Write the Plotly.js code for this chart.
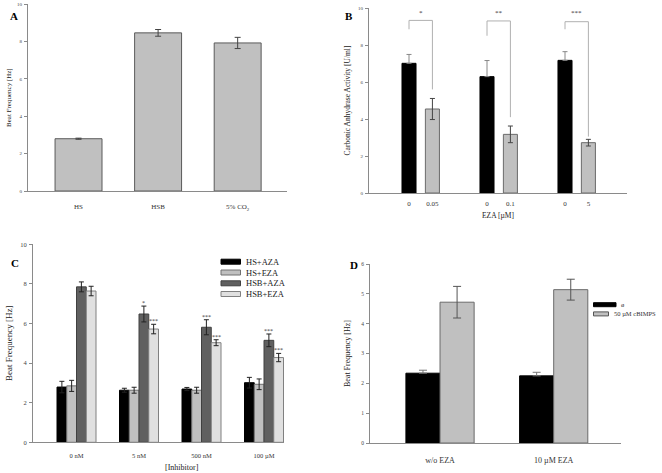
<!DOCTYPE html>
<html><head><meta charset="utf-8">
<script src="https://cdn.plot.ly/plotly-3.0.1.min.js"></script>
<style>html,body{margin:0;padding:0;background:#fff}#chart{width:662px;height:473px}</style>
</head><body><div id="chart"></div>
<script>
// ---- Panel A ----
const catsA = ["HS", "HSB", "5% CO<sub>2</sub>"];
const valsA = [2.8, 8.47, 7.93];
const errA = [0.03, 0.18, 0.3];

// ---- Panel B ----
const dosesB = ["0.05", "0.1", "5"];
const controlB = [7.01, 6.29, 7.17];
const controlErrB = [0.48, 0.87, 0.47];
const ezaB = [4.54, 3.17, 2.72];
const ezaErrB = [0.57, 0.45, 0.18];
const sigB = ["*", "**", "***"];

// ---- Panel C ----
const catsC = ["0 nM", "5 nM", "500 nM", "100 µM"];
const seriesC = ["HS+AZA", "HS+EZA", "HSB+AZA", "HSB+EZA"];
const hsAzaC = [2.79, 2.63, 2.69, 3.01];
const hsAzaErrC = [0.29, 0.10, 0.08, 0.27];
const hsEzaC = [2.85, 2.63, 2.63, 2.93];
const hsEzaErrC = [0.28, 0.15, 0.15, 0.27];
const hsbAzaC = [7.85, 6.48, 5.81, 5.15];
const hsbAzaErrC = [0.25, 0.40, 0.38, 0.32];
const hsbEzaC = [7.64, 5.72, 5.03, 4.28];
const hsbEzaErrC = [0.24, 0.24, 0.15, 0.21];
const sigHsbAzaC = ["", "*", "***", "***"];
const sigHsbEzaC = ["", "***", "***", "***"];

// ---- Panel D ----
const catsD = ["w/o EZA", "10 µM EZA"];
const seriesD = ["ø", "50 µM cBIMPS"];
const ctrlD = [2.34, 2.25];
const ctrlErrD = [0.10, 0.12];
const cbD = [4.72, 5.14];
const cbErrD = [0.53, 0.35];

// ---- helpers ----
const W = 662, H = 473;
const px = x => x / W;
const py = y => 1 - y / H;
const FONT = "Liberation Serif, Times New Roman, serif";
const AX = "#8a8a8a";
const idx = arr => arr.map((_, i) => i);
function offs(n, slot, w) { // offsets for n side-by-side bars
  const out = [];
  for (let i = 0; i < n; i++) out.push(-n * slot / 2 + i * slot + (slot - w) / 2);
  return out;
}
function bar(xa, ya, x, y, err, color, lineColor, offset, width, errColor, capW, oneSided) {
  const e = {type: "data", array: err, color: errColor, thickness: 1, width: capW, visible: true};
  if (oneSided) { e.symmetric = false; e.arrayminus = err.map(() => 0); }
  return {type: "bar", xaxis: xa, yaxis: ya, x: x, y: y, offset: offset, width: width,
    marker: {color: color, line: {color: lineColor, width: 1}}, error_y: e, showlegend: false,
    hoverinfo: "y"};
}

const traces = [];
// A
traces.push(bar("x", "y", idx(catsA), valsA, errA, "#c0c0c0", "#5a5a5a", -0.295, 0.59, "#444", 3));
// B
const oB = offs(2, 0.3, 0.18);
traces.push(bar("x2", "y2", idx(dosesB), controlB, controlErrB, "#000", "#000", oB[0], 0.18, "#888", 2.5, true));
traces.push(bar("x2", "y2", idx(dosesB), ezaB, ezaErrB, "#c0c0c0", "#6a6a6a", oB[1], 0.18, "#444", 2.5));
// C
const oC = offs(4, 0.156, 0.156);
const cData = [[hsAzaC, hsAzaErrC, "#000000", "#000"], [hsEzaC, hsEzaErrC, "#c0c0c0", "#707070"],
               [hsbAzaC, hsbAzaErrC, "#606060", "#404040"], [hsbEzaC, hsbEzaErrC, "#e0e0e0", "#808080"]];
cData.forEach((d, i) => traces.push(bar("x3", "y3", idx(catsC), d[0], d[1], d[2], d[3], oC[i], 0.156, "#222", 2.5)));
// D
const oD = offs(2, 0.3, 0.3);
traces.push(bar("x4", "y4", idx(catsD), ctrlD, ctrlErrD, "#000", "#000", oD[0], 0.3, "#777", 4, true));
traces.push(bar("x4", "y4", idx(catsD), cbD, cbErrD, "#c0c0c0", "#6a6a6a", oD[1], 0.3, "#555", 4));

function xax(domain, range, vals, text, anchor, fs, standoff) {
  return {domain: domain, range: range, tickmode: "array", tickvals: vals, ticktext: text, anchor: anchor,
    showline: true, linecolor: AX, linewidth: 1, ticks: "", showgrid: false, zeroline: false,
    tickfont: {family: FONT, size: fs, color: "#333"}, ticklabelstandoff: standoff, fixedrange: true};
}
function yax(domain, range, dtick, anchor, fs, title, tfs, standoff) {
  return {domain: domain, range: range, dtick: dtick, anchor: anchor, showline: true, linecolor: AX,
    linewidth: 1, ticks: "outside", ticklen: 3, tickcolor: AX, showgrid: false, zeroline: false,
    tickfont: {family: FONT, size: fs, color: "#444"}, ticklabelstandoff: 1,
    title: {text: title, font: {family: FONT, size: tfs, color: "#222"}, standoff: standoff}, fixedrange: true};
}

const shapes = [];
const annotations = [];
// B brackets
const brTop = [9.33, 9.3, 9.26];
const brLeftBottom = [8.85, 8.5, 8.85];
const brRightBottom = [5.6, 4.1, 3.05];
dosesB.forEach((d, i) => {
  const xl = i + oB[0] + 0.09, xr = i + oB[1] + 0.09;
  shapes.push({type: "path", xref: "x2", yref: "y2",
    path: `M ${xl},${brLeftBottom[i]} L ${xl},${brTop[i]} L ${xr},${brTop[i]} L ${xr},${brRightBottom[i]}`,
    line: {color: "#b0b0b0", width: 1}});
  annotations.push({xref: "x2", yref: "y2", x: i, y: 9.72, text: sigB[i], showarrow: false,
    font: {family: FONT, size: 7, color: "#333"}});
});
// C significance
[[hsbAzaC, hsbAzaErrC, sigHsbAzaC, 2], [hsbEzaC, hsbEzaErrC, sigHsbEzaC, 3]].forEach(s => {
  s[0].forEach((v, i) => {
    if (!s[2][i]) return;
    annotations.push({xref: "x3", yref: "y3", x: i + oC[s[3]] + 0.078, y: v + s[1][i], yanchor: "bottom",
      yshift: -2, text: s[2][i], showarrow: false, font: {family: FONT, size: 6, color: "#333"}});
  });
});
// C legend (drawn)
const legC = [["#000000", "#000"], ["#c0c0c0", "#707070"], ["#606060", "#404040"], ["#e0e0e0", "#808080"]];
const legCy = [261.7, 272.5, 283.3, 294];
seriesC.forEach((s, i) => {
  shapes.push({type: "rect", xref: "paper", yref: "paper", x0: px(221), x1: px(240.5),
    y0: py(legCy[i] + 2.5), y1: py(legCy[i] - 2.5), fillcolor: legC[i][0], line: {color: legC[i][1], width: 1}});
  annotations.push({xref: "paper", yref: "paper", x: px(244), y: py(legCy[i]), xanchor: "left", yanchor: "middle",
    text: s, showarrow: false, font: {family: FONT, size: 8.5, color: "#222"}});
});
// D legend (drawn)
const legD = [["#000", "#000", 616], ["#c0c0c0", "#555", 608.5]];
const legDy = [304.7, 313.9];
seriesD.forEach((s, i) => {
  shapes.push({type: "rect", xref: "paper", yref: "paper", x0: px(593.5), x1: px(legD[i][2]),
    y0: py(legDy[i] + 2), y1: py(legDy[i] - 2), fillcolor: legD[i][0], line: {color: legD[i][1], width: 1}});
  annotations.push({xref: "paper", yref: "paper", x: px(i === 0 ? 619 : 612), y: py(legDy[i]), xanchor: "left",
    yanchor: "middle", text: s, showarrow: false, font: {family: FONT, size: 6.5, color: "#333"}});
});
// C x title
annotations.push({xref: "paper", yref: "paper", x: px(164), y: py(461.5), xanchor: "left", yanchor: "top",
  text: "[Inhibitor]", showarrow: false, borderpad: 0, font: {family: FONT, size: 8, color: "#222"}});
// Panel letters
[["A", 8, 8], ["B", 349, 8], ["C", 9, 263], ["D", 354, 265]].forEach(l => {
  annotations.push({xref: "paper", yref: "paper", x: px(l[1]), y: py(l[2]), text: "<b>" + l[0] + "</b>",
    showarrow: false, font: {family: FONT, size: 11, color: "#000"}});
});

const layout = {
  width: W, height: H, margin: {l: 0, r: 0, t: 0, b: 0}, paper_bgcolor: "#fff", plot_bgcolor: "#fff",
  barmode: "overlay", showlegend: false, font: {family: FONT},
  xaxis: xax([px(28), px(287)], [-0.635, 2.62], idx(catsA), catsA, "y", 7, 9),
  yaxis: yax([py(191), py(4.3)], [0, 10], 2, "x", 5, "Beat Frequency [Hz]", 7, 4),
  xaxis2: Object.assign(xax([px(369), px(627)], [-0.663, 2.645],
            dosesB.flatMap((d, i) => [i + oB[0] + 0.09, i + oB[1] + 0.09]),
            dosesB.flatMap(d => ["0", d]), "y2", 7, 4),
          {title: {text: "EZA [µM]", font: {family: FONT, size: 7.5, color: "#222"}, standoff: 5}}),
  yaxis2: yax([py(193), py(8)], [0, 10], 2, "x2", 5, "Carbonic Anhydrase Activity [U/ml]", 7.5, 6),
  xaxis3: xax([px(33), px(284)], [-0.696, 3.32], idx(catsC), catsC, "y3", 6.5, 7),
  yaxis3: yax([py(442.3), py(244.3)], [0, 10], 2, "x3", 6.5, "Beat Frequency [Hz]", 9, 6),
  xaxis4: xax([px(370), px(621)], [-0.616, 1.592], idx(catsD), catsD, "y4", 8, 9),
  yaxis4: yax([py(443), py(264)], [0, 6], 1, "x4", 5.5, "Beat Frequency [Hz]", 8, 9),
  shapes: shapes, annotations: annotations
};
Plotly.newPlot("chart", traces, layout, {staticPlot: true, displayModeBar: false});
</script></body></html>
